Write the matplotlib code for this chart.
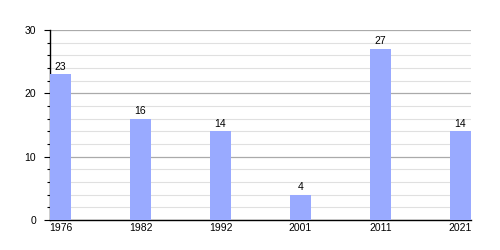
import matplotlib
matplotlib.use("Agg")
import matplotlib.pyplot as plt
from matplotlib.ticker import MultipleLocator

years = ["1976", "1982", "1992", "2001", "2011", "2021"]
values = [23, 16, 14, 4, 27, 14]

plt.rcParams['font.family'] = ['Liberation Sans', 'DejaVu Sans']

fig = plt.figure(figsize=(5, 2.5), dpi=100)
ax = fig.add_axes([0.1, 0.12, 0.842, 0.76])

x = list(range(len(years)))
bars = ax.bar(x, values, width=0.2625, color='#99aaff', zorder=3)
for xi, v in zip(x, values):
    ax.annotate(str(v), (xi, v), xytext=(0, 2), textcoords='offset points',
                ha='center', va='bottom', fontsize=7.5, color='black', zorder=4)

ax.set_xlim(-0.13125, len(years) - 1 + 0.13125)
ax.set_ylim(0, 30)
ax.set_xticks(x)
ax.set_xticklabels(years)
ax.yaxis.set_major_locator(MultipleLocator(10))
ax.yaxis.set_minor_locator(MultipleLocator(2))
ax.grid(which='major', axis='y', color='#aaaaaa', linewidth=0.9, zorder=0)
ax.grid(which='minor', axis='y', color='#e0e0e0', linewidth=0.8, zorder=0)
ax.tick_params(axis='x', length=0, labelsize=7.5, pad=2)
ax.tick_params(axis='y', which='major', length=4, labelsize=7.5, pad=6, width=0.8)
ax.tick_params(axis='y', which='minor', length=2, width=0.8)
for s in ['top', 'right']:
    ax.spines[s].set_visible(False)
ax.spines['left'].set_linewidth(1)
ax.spines['bottom'].set_linewidth(1)

fig.savefig('out.png', dpi=100)
